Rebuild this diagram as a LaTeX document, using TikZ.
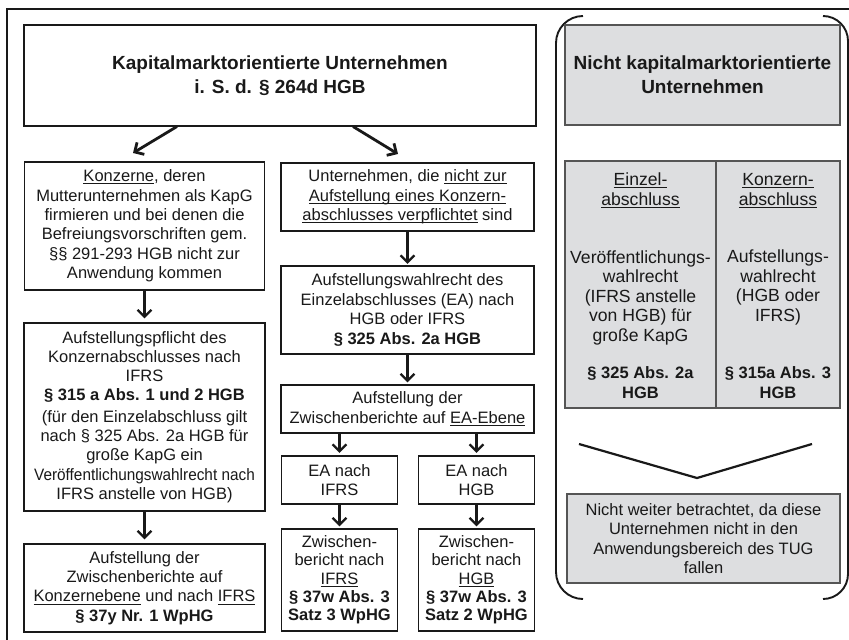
\documentclass[tikz,border=0pt]{standalone}
\usepackage{fontspec}
\usepackage{graphicx}
\setmainfont{Liberation Sans}
\usetikzlibrary{arrows.meta}
\definecolor{gfill}{RGB}{221,222,224}
\definecolor{gline}{RGB}{85,85,85}
\definecolor{ink}{RGB}{25,25,25}
\newsavebox{\myulbox}
\newcommand{\myul}[1]{\sbox{\myulbox}{#1}\rlap{\rule[-2.6pt]{\wd\myulbox}{1pt}}\usebox{\myulbox}}
\begin{document}
\begin{tikzpicture}[x=1pt,y=-1pt,
 box/.style={draw=ink, line width=1.1pt, fill=white, align=center, inner sep=0pt, text=ink, font=\fontsize{16.5}{19.4}\selectfont},
 gbox/.style={box, draw=gline, fill=gfill},
 lbl/.style={align=center, inner sep=0pt, text=ink, font=\fontsize{17.6}{19.5}\selectfont},
 lblb/.style={align=center, inner sep=0pt, text=ink, font=\fontsize{16.5}{19.5}\selectfont\bfseries},
 ttl/.style={font=\fontsize{19}{24}\selectfont\bfseries},
 arr/.style={draw=ink, line width=2.3pt, -{Straight Barb[length=7pt,width=14pt]}},
 darr/.style={arr, line width=2.8pt},
 brk/.style={draw=ink, line width=1.9pt}]
\useasboundingbox (0,0) rectangle (849,640);
% outer frame (cut by picture edge)
\draw[ink, line width=1.1pt] (7,640) -- (7,9) -- (849,9);

% left part
\node[box,ttl,minimum width=512pt,minimum height=101pt] (top) at (280,75.5)
 {Kapitalmarktorientierte Unternehmen\\ i. S. d. § 264d HGB};

\node[box,minimum width=240pt,minimum height=128pt] (B) at (144.5,226)
 {\myul{Konzerne}, deren\\ Mutterunternehmen als KapG\\ firmieren und bei denen die\\ Befreiungsvorschriften gem.\\ §§ 291-293 HGB nicht zur\\ Anwendung kommen};

\node[box,minimum width=253pt,minimum height=68pt] (C) at (407.5,197)
 {Unternehmen, die \myul{nicht zur}\\ \myul{Aufstellung eines Konzern-}\\ \myul{abschlusses verpflichtet} sind};

\node[box,minimum width=241pt,minimum height=188pt,font=\fontsize{16.5}{19.2}\selectfont] (D) at (144.5,417)
 {Aufstellungspflicht des\\ Konzernabschlusses nach\\ IFRS\\ \textbf{§ 315 a Abs. 1 und 2 HGB}\\[2.5pt] (für den Einzelabschluss gilt\\ nach § 325 Abs. 2a HGB für\\ große KapG ein\\ \scalebox{0.93}[1]{Veröffentlichungswahlrecht nach}\\ IFRS anstelle von HGB)};

\node[box,minimum width=241pt,minimum height=88pt] (E) at (144.5,588)
 {Aufstellung der\\ Zwischenberichte auf\\ \myul{Konzernebene} und nach \myul{IFRS}\\ \textbf{§ 37y Nr. 1 WpHG}};

\node[box,minimum width=253pt,minimum height=88pt] (F) at (407.5,310)
 {Aufstellungswahlrecht des\\ Einzelabschlusses (EA) nach\\ HGB oder IFRS\\ \textbf{§ 325 Abs. 2a HGB}};

\node[box,minimum width=253pt,minimum height=48pt] (G) at (407.5,409)
 {Aufstellung der\\ Zwischenberichte auf \myul{EA-Ebene}};

\node[box,minimum width=116pt,minimum height=48pt] (H1) at (339.5,480) {EA nach\\ IFRS};
\node[box,minimum width=116pt,minimum height=48pt] (H2) at (476.5,480) {EA nach\\ HGB};

\node[box,minimum width=116pt,minimum height=102pt,font=\fontsize{16.5}{18.3}\selectfont] (I1) at (339.5,580)
 {Zwischen-\\ bericht nach\\ \myul{IFRS}\\ \textbf{§ 37w Abs. 3}\\ \textbf{Satz 3 WpHG}};
\node[box,minimum width=116pt,minimum height=102pt,font=\fontsize{16.5}{18.3}\selectfont] (I2) at (476.5,580)
 {Zwischen-\\ bericht nach\\ \myul{HGB}\\ \textbf{§ 37w Abs. 3}\\ \textbf{Satz 2 WpHG}};

% connectors
\coordinate (tl) at (177,126.5);
\coordinate (tle) at (133,153);
\coordinate (tr) at (353,126.5);
\coordinate (tre) at (398,154);
\draw[darr] (tl) -- (tle);
\draw[darr] (tr) -- (tre);
\draw[arr,shorten >=4pt] (B.south) -- (D.north);
\draw[arr,shorten >=4pt] (D.south) -- (E.north);
\draw[arr,shorten >=1.5pt] (C.south) -- (F.north);
\draw[arr,shorten >=2pt] (F.south) -- (G.north);
\draw[arr,shorten >=2.5pt] (G.south -| H1.north) -- (H1.north);
\draw[arr,shorten >=2.5pt] (G.south -| H2.north) -- (H2.north);
\draw[arr,shorten >=2pt] (H1.south) -- (I1.north);
\draw[arr,shorten >=2pt] (H2.south) -- (I2.north);

% right part
\draw[brk, rounded corners=27pt] (583,16) -- (556,16) -- (556,599) -- (583,599);
\draw[brk, rounded corners=25pt] (823,16) -- (848,16) -- (848,599) -- (823,599);

\node[gbox,ttl,minimum width=275pt,minimum height=100pt] (GT) at (702.5,75)
 {Nicht kapitalmarktorientierte\\ Unternehmen};

\node[gbox,minimum width=151pt,minimum height=247pt] (GC1) at (640.5,284.5) {};
\node[gbox,minimum width=124pt,minimum height=247pt] (GC2) at (778,284.5) {};

\node[lbl] (GC1h) at (640.5,190.5) {\myul{Einzel-}\\ \myul{abschluss}};
\node[lbl] (GC1b) at (640.5,297.5) {Veröffentlichungs-\\ wahlrecht\\ (IFRS anstelle\\ von HGB) für\\ große KapG};
\node[lblb] (GC1l) at (640.5,382.5) {§ 325 Abs. 2a\\ HGB};

\node[lbl] (GC2h) at (778,190.5) {\myul{Konzern-}\\ \myul{abschluss}};
\node[lbl] (GC2b) at (778,287.5) {Aufstellungs-\\ wahlrecht\\ (HGB oder\\ IFRS)};
\node[lblb] (GC2l) at (778,382.5) {§ 315a Abs. 3\\ HGB};

\draw[ink, line width=2.2pt] (579,444) -- (697,478) -- (812,444);

\node[gbox,minimum width=273pt,minimum height=89pt] (GB) at (703.5,538.5)
 {Nicht weiter betrachtet, da diese\\ Unternehmen nicht in den\\ Anwendungsbereich des TUG\\ fallen};
\end{tikzpicture}
\end{document}
